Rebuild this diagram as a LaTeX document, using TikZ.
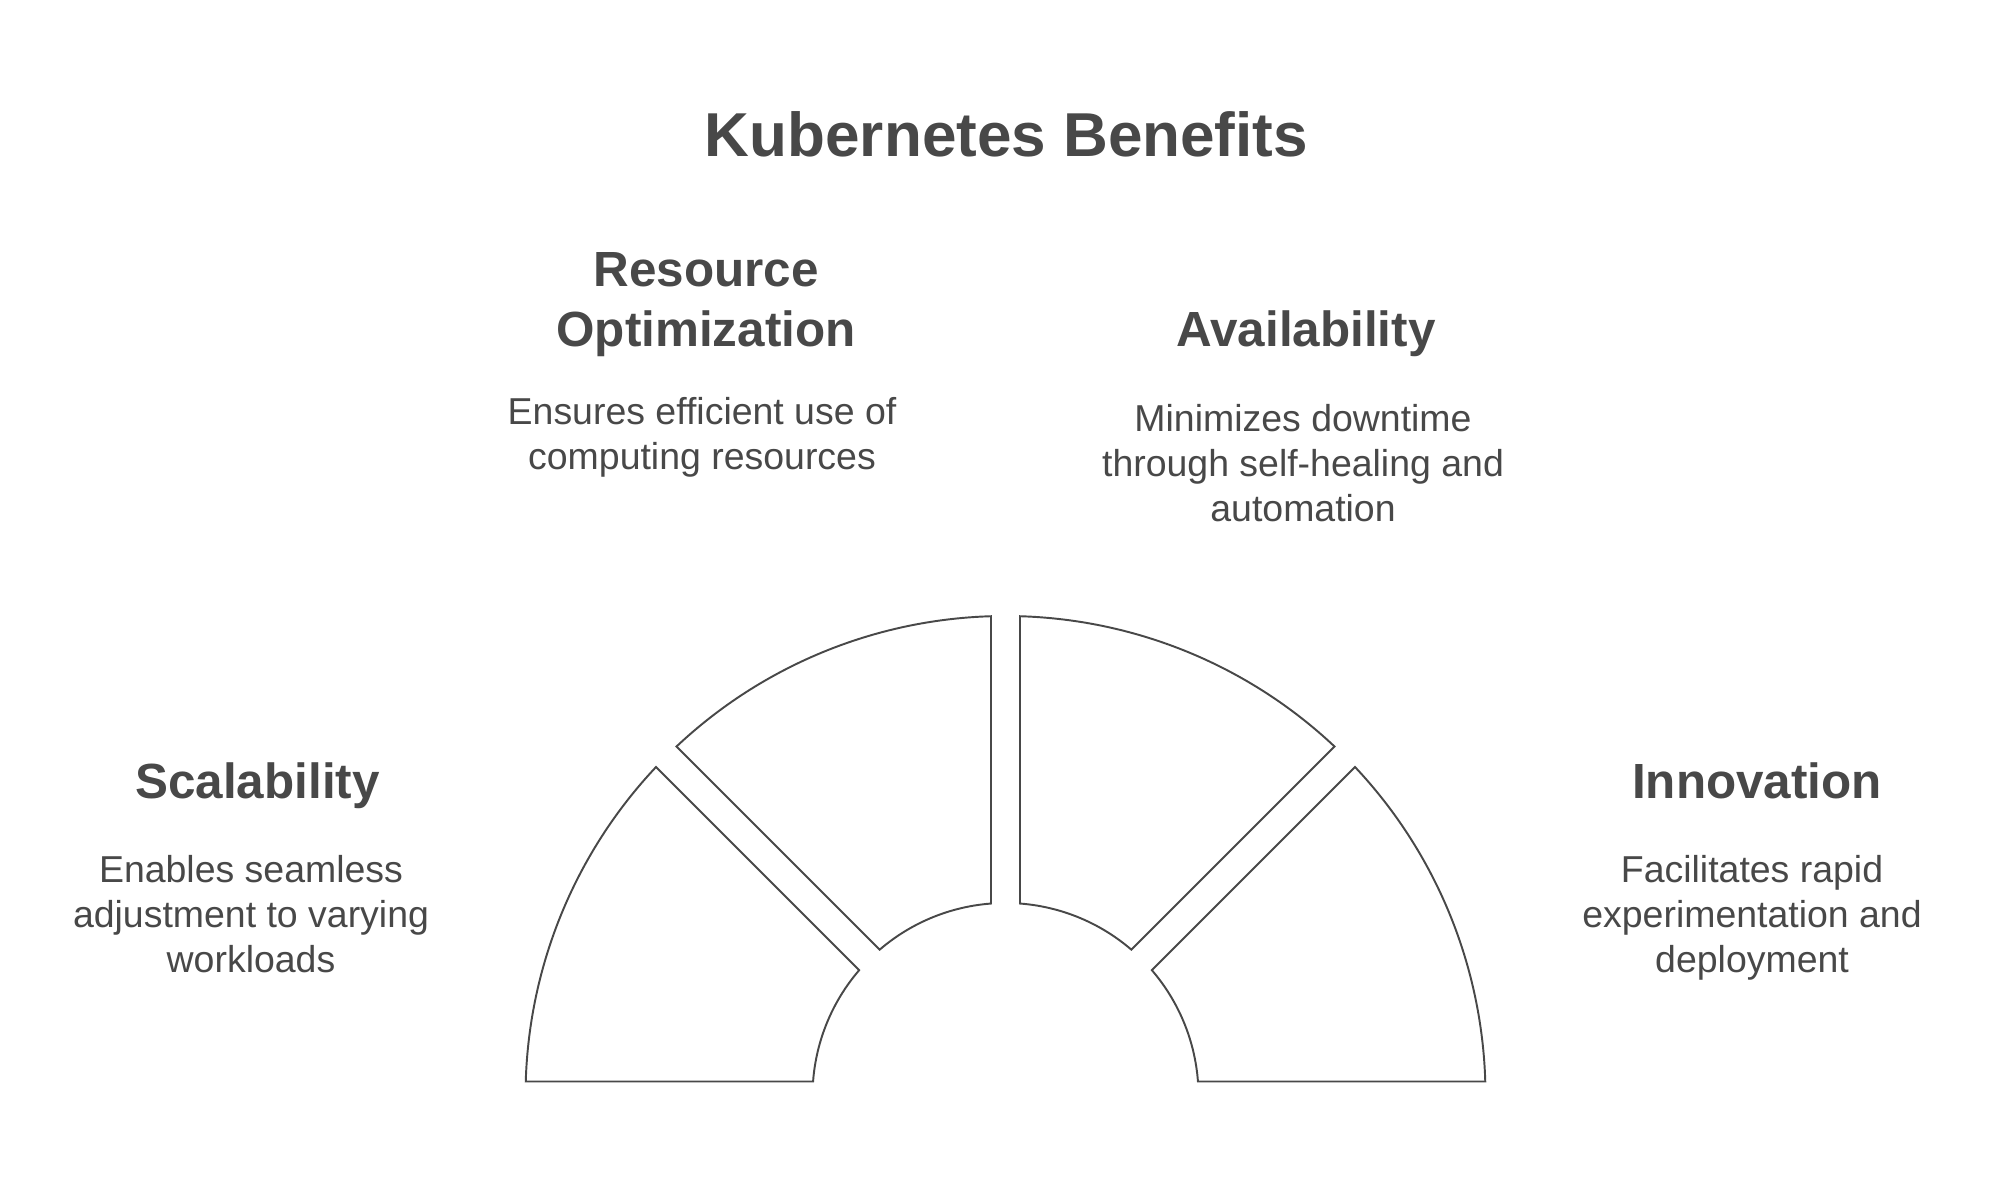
\documentclass[tikz,border=0pt]{standalone}
\usepackage{fontspec}
\setmainfont{Liberation Sans}
\usepackage{tikz}
\definecolor{ink}{HTML}{484848}
\tikzset{
    x=0.01cm, y=0.01cm, % one unit is one pixel of the reference
    heading/.style={font=\bfseries\fontsize{14.05}{17.1}\selectfont, text=ink, align=center, inner sep=0pt, anchor=base}, % block titles
    blurb/.style={font=\fontsize{10.65}{12.8}\selectfont, text=ink, align=center, inner sep=0pt, anchor=base}, % the small text under them
    segment/.style={draw=ink, line width=0.55pt, line join=miter}, % one piece of the half ring
}
\newcommand{\outerR}{480}
\newcommand{\innerR}{193}
\newcommand{\halfgap}{14.5}

\begin{document}
\begin{tikzpicture}
            \useasboundingbox (0,0) rectangle (2013,1204);

            % multi-line nodes sit on the baseline of their last line
            \node[heading, font=\bfseries\fontsize{17.64}{21}\selectfont] (title) at (1006.5,1047) {Kubernetes Benefits};

            \node[heading] (resopt) at (706,857) {Resource\\Optimization};
            \node[blurb] (resoptdesc) at (702,734) {Ensures efficient use of\\computing resources};

            \node[heading] (avail) at (1306,857) {Availability};
            \node[blurb] (availdesc) at (1303,682) {Minimizes downtime\\through self-healing and\\automation};

            \node[heading] (scal) at (257.5,405) {Scalability};
            \node[blurb] (scaldesc) at (251,231.5) {Enables seamless\\adjustment to varying\\workloads};

            \node[heading] (innov) at (1757,405) {Innovation};
            \node[blurb] (innovdesc) at (1752,231.5) {Facilitates rapid\\experimentation and\\deployment};

            % four pieces of the half ring, with a gap between them
            \pgfmathsetmacro{\dOut}{asin(\halfgap/\outerR)}
            \pgfmathsetmacro{\dIn}{asin(\halfgap/\innerR)}
            \begin{scope}[shift={(1005.5,108)}]
                \foreach \a in {0,45,90,135} {
                    \draw[segment] ({\a+\dOut}:\outerR)
                        arc[start angle=\a+\dOut, end angle=\a+45-\dOut, radius=\outerR]
                        -- ({\a+45-\dIn}:\innerR)
                        arc[start angle=\a+45-\dIn, end angle=\a+\dIn, radius=\innerR]
                        -- cycle;
                }
            \end{scope}
        \end{tikzpicture}
\end{document}
